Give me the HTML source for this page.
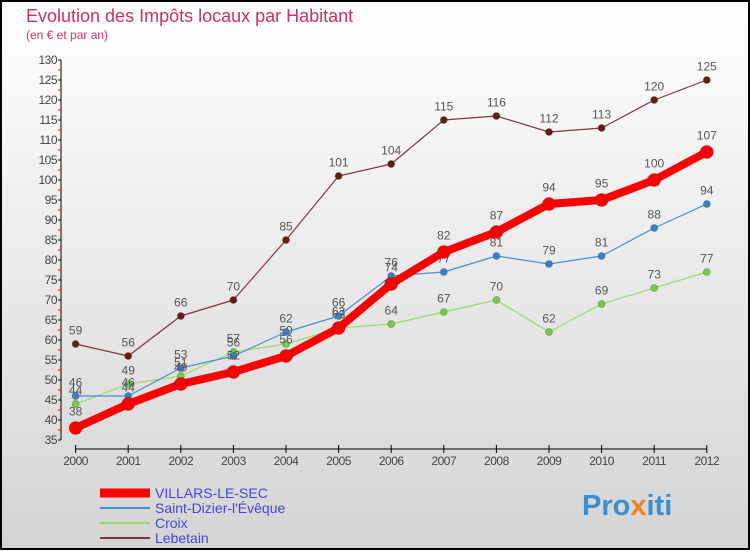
<!DOCTYPE html>
<html><head><meta charset="utf-8"><style>
body{margin:0}
svg text{font-family:"Liberation Sans",sans-serif}
</style></head><body>
<svg width="750" height="550" xmlns="http://www.w3.org/2000/svg">
<defs><linearGradient id="bg" x1="0" y1="0" x2="0" y2="1"><stop offset="0" stop-color="#ffffff"/><stop offset="1" stop-color="#d4d4d4"/></linearGradient></defs>
<rect x="1" y="1" width="748" height="548" fill="url(#bg)" stroke="#000" stroke-width="2"/>
<text x="26" y="22" font-size="18" fill="#d03060">Evolution des Impôts locaux par Habitant</text>
<text x="26" y="39" font-size="12" fill="#d03060">(en € et par an)</text>
<g id="axes"></g><g id="series"></g>
<g>
<line x1="100" y1="493" x2="150" y2="493" stroke="#f00" stroke-width="9"/>
<text x="155" y="498" font-size="14" fill="#4444dd">VILLARS-LE-SEC</text>
<line x1="100" y1="508" x2="150" y2="508" stroke="#4a8fd0" stroke-width="2"/>
<text x="155" y="513" font-size="14" fill="#4444dd">Saint-Dizier-l'Évêque</text>
<line x1="100" y1="523" x2="150" y2="523" stroke="#99dd66" stroke-width="2"/>
<text x="155" y="528" font-size="14" fill="#4444dd">Croix</text>
<line x1="100" y1="538" x2="150" y2="538" stroke="#7a3a3a" stroke-width="2"/>
<text x="155" y="543" font-size="14" fill="#4444dd">Lebetain</text>
</g>
<text x="582" y="515" font-size="29" font-weight="bold" fill="#3a8fd0">Pro<tspan fill="#f08020">x</tspan>iti</text>
</svg>
<script>
const years=[2000,2001,2002,2003,2004,2005,2006,2007,2008,2009,2010,2011,2012];
const villars=[38,44,49,52,56,63,74,82,87,94,95,100,107];
const saintDizier=[46,46,53,56,62,66,76,77,81,79,81,88,94];
const croix=[44,49,51,57,59,63,64,67,70,62,69,73,77];
const lebetain=[59,56,66,70,85,101,104,115,116,112,113,120,125];
const yTicks=[35,40,45,50,55,60,65,70,75,80,85,90,95,100,105,110,115,120,125,130];
const NS="http://www.w3.org/2000/svg";
const X=i=>75.6+i*52.6, Y=v=>60+(130-v)*4;
function mk(t,a,p){const e=document.createElementNS(NS,t);for(const k in a)e.setAttribute(k,a[k]);p.appendChild(e);return e;}
const ax=document.getElementById('axes');
const yl=mk('line',{x1:61,y1:60,x2:61,y2:440,stroke:'#000','stroke-width':1},ax);


yTicks.forEach(v=>{
 mk('line',{x1:58,y1:Y(v),x2:61,y2:Y(v),stroke:'#000'},ax);
 if(v<130){mk('line',{x1:58,y1:Y(v+2.5),x2:61,y2:Y(v+2.5),stroke:'#f00'},ax);}
 const t=mk('text',{x:57,y:Y(v)+4,'font-size':12,fill:'#444','text-anchor':'end','letter-spacing':'-0.5'},ax);
 t.textContent=v;
 
 
});
const xl=mk('line',{x1:X(0),y1:449,x2:X(12),y2:449,stroke:'#000'},ax);


years.forEach((y,i)=>{
 mk('line',{x1:X(i),y1:445,x2:X(i),y2:453,stroke:'#000'},ax);
 const t=mk('text',{x:X(i),y:465,'font-size':12,fill:'#444','text-anchor':'middle','letter-spacing':'-0.5'},ax);
 t.textContent=y;
 
 
});
const sg=document.getElementById('series');
function draw(data,color,w,r,name,fill){
 const g=mk('g',{},sg);
 
 
 const pl=mk('polyline',{points:data.map((v,i)=>X(i)+','+Y(v)).join(' '),fill:'none',stroke:color,'stroke-width':w,'stroke-linejoin':'round'},g);
 
 
 data.forEach((v,i)=>{
  const c=mk('circle',{cx:X(i),cy:Y(v),r:r,fill:fill,stroke:'#0003'},g);
  
  
  const t=mk('text',{x:X(i),y:Y(v)-r-6,'font-size':12,fill:'#555','text-anchor':'middle'},g);
  t.textContent=v;
  
  
 });
}
draw(lebetain,'#7a3a3a',1.2,3.5,'lebetain','#6a1a1a');
draw(croix,'#99dd66',1.2,3.5,'croix','#77cc44');
draw(saintDizier,'#4a8fd0',1.2,3.5,'saint-dizier','#3a80c8');
draw(villars,'#f00',8,6.5,'villars','#f00');
</script>
</body></html>
